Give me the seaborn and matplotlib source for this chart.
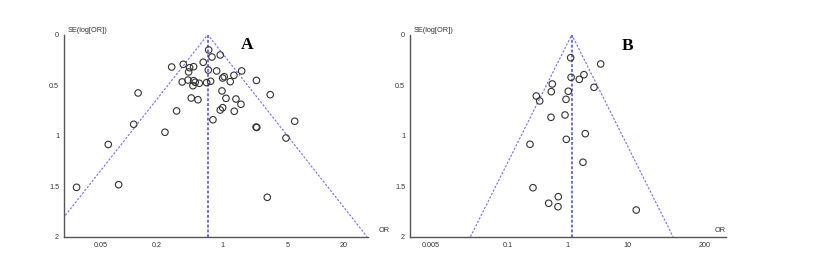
import numpy as np
import pandas as pd
import matplotlib
matplotlib.use("Agg")
import matplotlib.pyplot as plt
import seaborn as sns

# ---------------- data ----------------
# Panel A: odds ratios and SE(log OR)
or_a = [0.288, 0.383, 0.448, 0.494, 0.437, 0.716, 0.952, 0.776, 0.626, 0.709,
        0.871, 1.612, 1.334, 1.05, 1.01, 1.218, 2.32, 0.373, 0.430, 0.494,
        0.514, 0.486, 0.568, 0.681, 0.751, 0.993, 0.466, 0.550, 1.096, 1.401,
        1.585, 1.01, 0.952, 1.344, 0.325, 0.795, 0.244, 2.30, 2.34, 3.26,
        5.95, 0.126, 0.113, 0.0604, 4.80, 0.0277, 0.078, 3.03]
se_a = [0.320, 0.293, 0.327, 0.317, 0.369, 0.151, 0.201, 0.221, 0.273, 0.350,
        0.359, 0.359, 0.402, 0.416, 0.429, 0.465, 0.453, 0.468, 0.449, 0.455,
        0.471, 0.505, 0.481, 0.475, 0.461, 0.557, 0.627, 0.644, 0.630, 0.637,
        0.689, 0.723, 0.746, 0.758, 0.755, 0.842, 0.966, 0.915, 0.918, 0.594,
        0.857, 0.577, 0.887, 1.087, 1.023, 1.511, 1.485, 1.610]
pooled_a = 0.70

# Panel B
or_b = [1.13, 3.61, 1.15, 1.58, 1.89, 0.555, 2.79, 0.534, 1.03, 0.299,
        0.341, 0.944, 0.528, 0.908, 1.99, 0.955, 0.234, 1.82, 0.263, 0.70,
        0.483, 0.692, 14.3]
se_b = [0.228, 0.290, 0.422, 0.442, 0.396, 0.488, 0.521, 0.564, 0.560, 0.607,
        0.656, 0.640, 0.818, 0.795, 0.980, 1.036, 1.085, 1.263, 1.515, 1.604,
        1.669, 1.703, 1.736]
pooled_b = 1.18

xticks_a = [0.05, 0.2, 1, 5, 20]
xticklabels_a = ["0.05", "0.2", "1", "5", "20"]
xticks_b = [0.005, 0.1, 1, 10, 200]
xticklabels_b = ["0.005", "0.1", "1", "10", "200"]
yticks = [0, 0.5, 1, 1.5, 2]
yticklabels = ["0", "0.5", "1", "1.5", "2"]

panels = [
    dict(or_=or_a, se=se_a, pooled=pooled_a, xticks=xticks_a, xtl=xticklabels_a,
         xlim=(0.0203, 35.9), pos=[0.0780, 0.1068, 0.3704, 0.7623], title="A",
         tpos=(0.602, 0.949), orx=1.035, ora="left"),
    dict(or_=or_b, se=se_b, pooled=pooled_b, xticks=xticks_b, xtl=xticklabels_b,
         xlim=(0.002254, 456), pos=[0.5, 0.1068, 0.385, 0.7623], title="B",
         tpos=(0.690, 0.944), orx=1.0, ora="right"),
]

# ---------------- plot ----------------
sns.set_style("white")
plt.rcParams["font.family"] = ["Liberation Sans", "DejaVu Sans"]

fig = plt.figure(figsize=(8.2, 2.65), dpi=100)
line_col = "#6c6cf0"
axis_col = "#555555"
text_col = "#333333"

for p in panels:
    ax = fig.add_axes(p["pos"])
    df = pd.DataFrame({"OR": p["or_"], "SE": p["se"]})
    sns.scatterplot(data=df, x="OR", y="SE", ax=ax, marker="o", s=22,
                    facecolors="none", edgecolor="#333333", linewidth=0.8,
                    zorder=3, legend=False)
    ax.set_xscale("log")
    c = p["pooled"]
    lo, hi = c * np.exp(-1.96 * 2), c * np.exp(1.96 * 2)
    ax.plot([lo, c, hi], [2, 0, 2], color=line_col, lw=0.8,
            linestyle=(0, (2, 1.5)), zorder=2)
    ax.plot([c, c], [0, 2], color=line_col, lw=1.4,
            linestyle=(0, (1.5, 1)), zorder=2)

    ax.set_xlim(*p["xlim"])
    ax.set_ylim(2, 0)
    ax.set_xticks(p["xticks"])
    ax.set_xticklabels(p["xtl"])
    ax.xaxis.set_minor_locator(matplotlib.ticker.NullLocator())
    ax.set_yticks(yticks)
    ax.set_yticklabels(yticklabels)
    ax.tick_params(axis="both", direction="inout", length=4, width=0.8,
                   color=axis_col, labelsize=5.2, labelcolor=text_col, pad=1.5)
    ax.set_xlabel("")
    ax.set_ylabel("")
    for s in ["top", "right"]:
        ax.spines[s].set_visible(False)
    for s in ["left", "bottom"]:
        ax.spines[s].set_color(axis_col)
        ax.spines[s].set_linewidth(1.0)
    ax.text(0.013, 1.02, "SE(log[OR])", transform=ax.transAxes, fontsize=5.3,
            color=text_col, ha="left", va="center")
    ax.text(p["orx"], 0.03, "OR", transform=ax.transAxes, fontsize=5.3,
            color=text_col, ha=p["ora"], va="center")
    ax.text(p["tpos"][0], p["tpos"][1], p["title"], transform=ax.transAxes,
            fontsize=12.5, fontweight="bold", family="Liberation Serif",
            ha="center", va="center", color="black")

fig.savefig("out.png", dpi=100)
